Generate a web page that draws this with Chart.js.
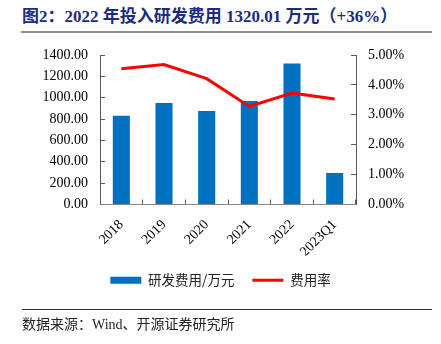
<!DOCTYPE html>
<html>
<head>
<meta charset="utf-8">
<script src="https://cdn.jsdelivr.net/npm/chart.js@4"></script>
<style>
  html, body { margin: 0; padding: 0; background: #fff; }
  #wrap { position: relative; width: 441px; height: 344px; }
  #chart { position: absolute; left: 0; top: 0; }
  .title {
    position: absolute; left: 22px; top: 2px;
    font: bold 17px "Liberation Serif", "Noto Sans CJK SC", serif;
    color: #1c2b7e; white-space: nowrap;
  }
  .rule-top { position: absolute; left: 21px; top: 31px; width: 411px; height: 2px; background: #8c8c8c; }
  .rule-bottom { position: absolute; left: 22px; top: 309px; width: 410px; height: 1px; background: #333; }
  .source {
    position: absolute; left: 22px; top: 313px;
    font: 14px "Liberation Serif", "Noto Sans CJK SC", serif;
    color: #222; white-space: nowrap;
  }
</style>
</head>
<body>
<div id="wrap">
  <div class="title">图2：2022 年投入研发费用 1320.01 万元（+36%）</div>
  <div class="rule-top"></div>
  <canvas id="chart" width="441" height="344"></canvas>
  <div class="rule-bottom"></div>
  <div class="source">数据来源：Wind、开源证券研究所</div>
</div>
<script>
const years = ['2018', '2019', '2020', '2021', '2022', '2023Q1'];
const rdExpense = [831, 950, 875, 969, 1320.01, 294];   // 万元
const expenseRatio = [4.54, 4.68, 4.21, 3.28, 3.73, 3.53]; // %

const tickFont = { family: 'Liberation Serif', size: 14 };
const axisColor = '#595959';

new Chart(document.getElementById('chart'), {
  type: 'bar',
  data: {
    labels: years,
    datasets: [
      {
        label: '研发费用/万元',
        data: rdExpense,
        backgroundColor: '#0070c0',
        borderWidth: 0,
        barPercentage: 0.4,
        categoryPercentage: 1,
        pointStyle: 'rect',
        yAxisID: 'y',
        order: 1
      },
      {
        type: 'line',
        label: '费用率',
        data: expenseRatio,
        borderColor: '#ff0000',
        backgroundColor: '#ff0000',
        borderWidth: 3,
        pointRadius: 0,
        tension: 0,
        pointStyle: 'line',
        yAxisID: 'y1',
        order: 0
      }
    ]
  },
  options: {
    responsive: false,
    animation: false,
    layout: { padding: { top: 55, left: 0, right: 0, bottom: 47 } },
    plugins: {
      tooltip: { enabled: false },
      legend: {
        position: 'bottom',
        labels: {
          usePointStyle: true,
          pointStyleWidth: 31,
          boxHeight: 7,
          padding: 18,
          color: '#222',
          font: { family: 'Noto Sans CJK SC', size: 13.5 },
          // keep bar first, line second
          sort: (a, b) => a.datasetIndex - b.datasetIndex
        }
      }
    },
    scales: {
      x: {
        grid: { drawOnChartArea: false, tickLength: -5, color: axisColor },
        border: { color: '#888' },
        ticks: { color: '#000', font: tickFont, minRotation: 45, maxRotation: 45, padding: 17 },
        afterFit: (s) => { s.height = 51; }
      },
      y: {
        position: 'left',
        min: 0,
        max: 1400,
        grid: { drawOnChartArea: false, tickLength: -5, color: axisColor },
        border: { color: axisColor },
        ticks: {
          stepSize: 200,
          color: '#000',
          font: tickFont,
          padding: 17,
          callback: (v) => v.toFixed(2)
        },
        afterFit: (s) => { s.width = 100; }
      },
      y1: {
        position: 'right',
        min: 0,
        max: 5,
        grid: { drawOnChartArea: false, tickLength: -5, color: axisColor },
        border: { color: axisColor },
        ticks: {
          stepSize: 1,
          color: '#000',
          font: tickFont,
          padding: 17,
          callback: (v) => v.toFixed(2) + '%'
        },
        afterFit: (s) => { s.width = 85; }
      }
    }
  }
});
</script>
</body>
</html>
